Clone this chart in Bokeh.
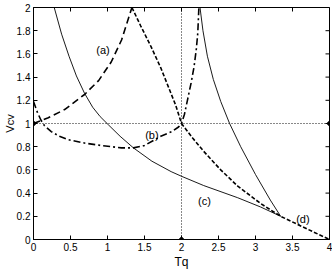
from math import pi
from bokeh.plotting import figure
from bokeh.models import FixedTicker, Label, Range1d
from bokeh.embed import file_html
from bokeh.resources import INLINE

# ---- data ----
x_ticks = [0, 0.5, 1, 1.5, 2, 2.5, 3, 3.5, 4]
x_tick_labels = ["0", "0.5", "1", "1.5", "2", "2.5", "3", "3.5", "4"]
y_ticks = [0, 0.2, 0.4, 0.6, 0.8, 1, 1.2, 1.4, 1.6, 1.8, 2]
y_tick_labels = ["0", "0.2", "0.4", "0.6", "0.8", "1", "1.2", "1.4", "1.6", "1.8", "2"]
x_max = 4
y_max = 2

# thin solid curve, left branch (through (c))
t_solid_left = [0.28, 0.38, 0.48, 0.58, 0.69, 0.8, 0.9, 1.01, 1.17, 1.35, 1.6, 1.86, 2.0, 2.3,
                2.76, 3.07, 3.34]
v_solid_left = [2.0, 1.77, 1.58, 1.41, 1.26, 1.14, 1.06, 0.99, 0.89, 0.79, 0.675, 0.585, 0.545, 0.465,
                0.36, 0.28, 0.2]

# thin solid curve, right branch
t_solid_right = [2.25, 2.29, 2.35, 2.43, 2.53, 2.65, 2.8, 3.0, 3.2, 3.34]
v_solid_right = [2.0, 1.8, 1.58, 1.38, 1.19, 1.0, 0.8, 0.56, 0.34, 0.2]

# dashed curve (a), rising part
t_a_up = [0, 0.2, 0.42, 0.69, 0.88, 1.05, 1.19, 1.33]
v_a_up = [1.0, 1.05, 1.12, 1.25, 1.37, 1.53, 1.72, 2.0]

# dashed curve, falling part (to (d))
t_a_down = [1.33, 1.45, 1.59, 1.72, 1.82, 1.92, 2.0, 2.15, 2.3, 2.53, 2.76, 3.07, 3.34, 3.7, 4.0]
v_a_down = [2.0, 1.84, 1.66, 1.48, 1.32, 1.16, 1.0, 0.875, 0.76, 0.6, 0.46, 0.31, 0.2, 0.09, 0.0]

# dash-dot curve (b)
t_b = [0, 0.05, 0.1, 0.15, 0.24, 0.35, 0.47, 0.7, 0.92, 1.19, 1.35, 1.5, 1.72, 1.87, 1.96, 2.0,
       2.04, 2.08, 2.13, 2.17, 2.2, 2.22, 2.235]
v_b = [1.19, 1.1, 1.03, 0.98, 0.93, 0.89, 0.86, 0.83, 0.81, 0.79, 0.79, 0.81, 0.89, 0.93, 0.97, 1.0,
       1.08, 1.2, 1.35, 1.49, 1.64, 1.78, 2.0]

# reference lines
h_ref_t = [0, 4]
h_ref_v = [1, 1]
v_ref_t = [2, 2]
v_ref_v = [0, 2]
dot_t = [0, 4, 2]
dot_v = [1, 1, 0]

curve_labels = ["(a)", "(b)", "(c)", "(d)"]
label_t = [0.94, 1.6, 2.31, 3.64]
label_v = [1.63, 0.90, 0.33, 0.18]

x_label = "Tq"
y_label = "V\u1d04\u1d20"   # V with small-capital C V (subscript CV)

FONT = "Liberation Sans"

p = figure(width=332, height=271, output_backend="svg", toolbar_location=None,
           x_range=Range1d(0, x_max), y_range=Range1d(0, y_max),
           min_border_left=32, min_border_right=3, min_border_top=7, min_border_bottom=29)
p.grid.visible = False
p.outline_line_color = "black"
p.outline_line_width = 1
p.background_fill_color = "white"
p.border_fill_color = "white"

def style_axis(ax, ticks, labels):
    ax.ticker = FixedTicker(ticks=ticks)
    ax.axis_line_color = "black"
    ax.axis_line_width = 1
    ax.major_tick_in = 4
    ax.major_tick_out = 0
    ax.minor_tick_line_color = None
    ax.major_tick_line_color = "black"
    ax.major_label_overrides = {t: l for t, l in zip(ticks, labels)}
    ax.major_label_text_font = FONT
    ax.major_label_text_font_size = "10px"
    ax.major_label_text_color = "black"
    ax.axis_label_text_font = FONT
    ax.axis_label_text_font_style = "normal"
    ax.axis_label_text_color = "black"

style_axis(p.xaxis[0], x_ticks, x_tick_labels)
style_axis(p.yaxis[0], y_ticks, y_tick_labels)
p.xaxis[0].major_label_standoff = 3
p.xaxis[0].axis_label = x_label
p.xaxis[0].axis_label_text_font_size = "12px"
p.xaxis[0].axis_label_standoff = 1
p.yaxis[0].major_label_standoff = 3
p.yaxis[0].axis_label = y_label
p.yaxis[0].axis_label_text_font_size = "11px"
p.yaxis[0].axis_label_standoff = -2

# inward ticks on the top and right frame edges (half of each dash is clipped by the frame)
p.scatter(x_ticks, [y_max] * len(x_ticks), marker="dash", angle=pi / 2, size=8,
          line_color="black", line_width=1)
p.scatter([x_max] * len(y_ticks), y_ticks, marker="dash", size=8,
          line_color="black", line_width=1)

# reference dotted lines
p.line(h_ref_t, h_ref_v, line_color="#111111", line_width=1, line_dash="1 2")
p.line(v_ref_t, v_ref_v, line_color="#111111", line_width=1, line_dash="1 2")
p.scatter(dot_t, dot_v, size=4, color="black")

# curves
p.line(t_solid_left, v_solid_left, line_color="black", line_width=0.9)
p.line(t_solid_right, v_solid_right, line_color="black", line_width=0.9)
p.line(t_a_up, v_a_up, line_color="black", line_width=1.6, line_dash="7 4")
p.line(t_a_down, v_a_down, line_color="black", line_width=1.6, line_dash="4 2")
p.line(t_b, v_b, line_color="black", line_width=1.6, line_dash="7 3 2 3")

for txt, t, v in zip(curve_labels, label_t, label_v):
    p.add_layout(Label(x=t, y=v, text=txt, text_font=FONT, text_font_size="11px",
                       text_align="center", text_baseline="middle", text_color="black"))

open("out.html", "w").write(file_html(p, INLINE))
